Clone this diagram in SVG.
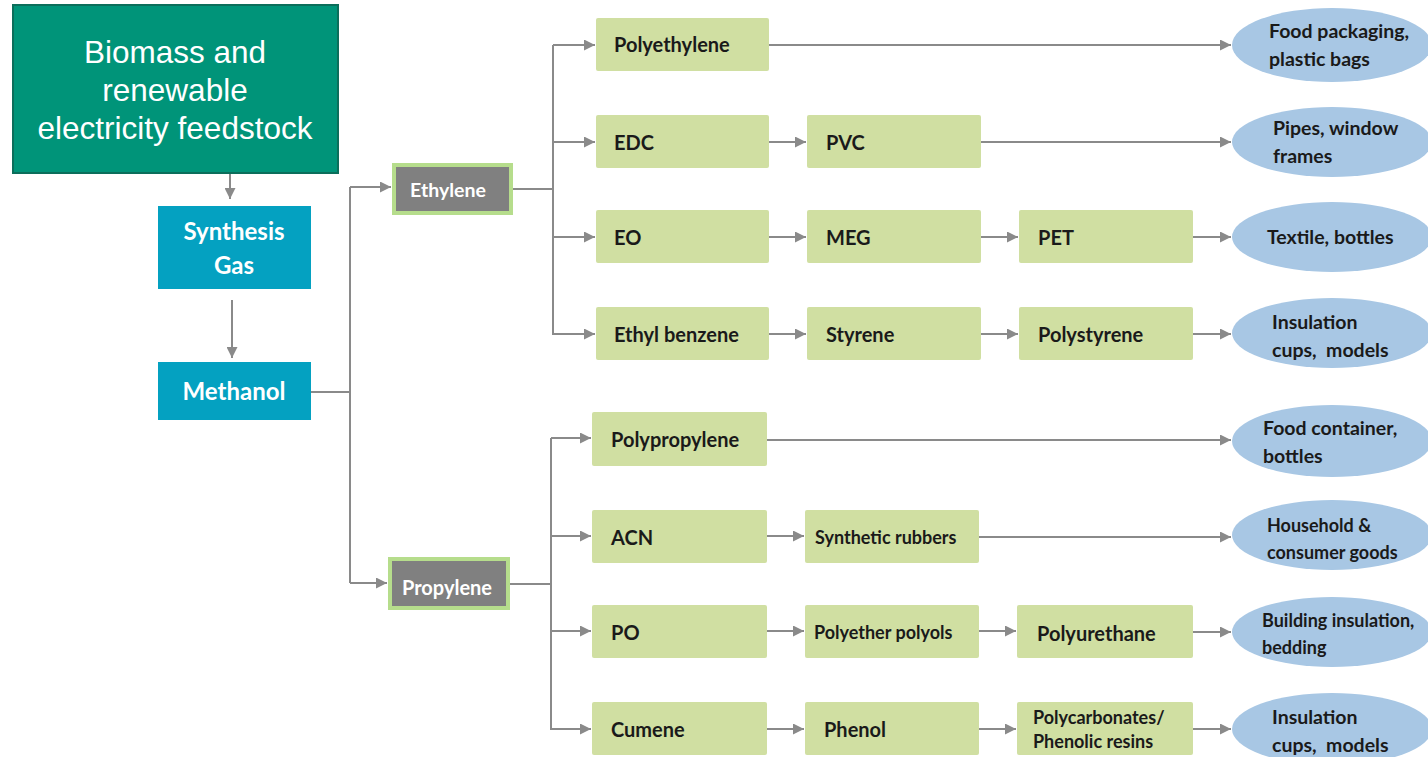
<svg xmlns="http://www.w3.org/2000/svg" width="1428" height="757" viewBox="0 0 1428 757">
<style>
.conn{fill:none;stroke:#8a8a8a;stroke-width:2}
.box{fill:#d0dfa2}
.bt{font-family:Lato,"Liberation Sans",sans-serif;font-size:20px;font-weight:bold;fill:#1a1a1a}
.st{font-family:Lato,"Liberation Sans",sans-serif;font-size:18px;font-weight:bold;fill:#1a1a1a}
.ell{fill:#a8c7e4}
.et{font-family:Lato,"Liberation Sans",sans-serif;font-size:19.5px;font-weight:bold;fill:#1a1a1a}
.gray{fill:#808080;stroke:#b6dd8c;stroke-width:4}
.wt{font-family:Lato,"Liberation Sans",sans-serif;fill:#fff;text-anchor:middle;font-weight:bold}
.blue{fill:#04a1c1}
</style>
<defs>
<marker id="ah" markerUnits="userSpaceOnUse" markerWidth="11" markerHeight="11" refX="11" refY="5.5" orient="auto">
<path d="M0,0 L11,5.5 L0,11 z" fill="#8a8a8a"/>
</marker>
</defs>
<rect width="1428" height="757" fill="#fff"/>
<g id="connectors">
<line class="conn" x1="230" y1="173" x2="230" y2="199" marker-end="url(#ah)"/>
<line class="conn" x1="232" y1="300" x2="232" y2="358" marker-end="url(#ah)"/>
<polyline class="conn" points="311,392 350,392"/>
<polyline class="conn" points="350,187 350,583"/>
<line class="conn" x1="350" y1="187" x2="391" y2="187" marker-end="url(#ah)"/>
<line class="conn" x1="350" y1="583" x2="387" y2="583" marker-end="url(#ah)"/>
<polyline class="conn" points="513,189 553,189"/>
<polyline class="conn" points="553,45 553,335"/>
<line class="conn" x1="553" y1="45" x2="595" y2="45" marker-end="url(#ah)"/>
<line class="conn" x1="553" y1="142" x2="595" y2="142" marker-end="url(#ah)"/>
<line class="conn" x1="553" y1="237" x2="595" y2="237" marker-end="url(#ah)"/>
<line class="conn" x1="553" y1="334" x2="595" y2="334" marker-end="url(#ah)"/>
<polyline class="conn" points="510,584 551,584"/>
<polyline class="conn" points="551,438 551,730"/>
<line class="conn" x1="551" y1="438" x2="591" y2="438" marker-end="url(#ah)"/>
<line class="conn" x1="551" y1="536" x2="591" y2="536" marker-end="url(#ah)"/>
<line class="conn" x1="551" y1="631" x2="591" y2="631" marker-end="url(#ah)"/>
<line class="conn" x1="551" y1="729" x2="591" y2="729" marker-end="url(#ah)"/>
<line class="conn" x1="769" y1="142" x2="806" y2="142" marker-end="url(#ah)"/>
<line class="conn" x1="769" y1="237" x2="806" y2="237" marker-end="url(#ah)"/>
<line class="conn" x1="769" y1="334" x2="806" y2="334" marker-end="url(#ah)"/>
<line class="conn" x1="767" y1="536" x2="804" y2="536" marker-end="url(#ah)"/>
<line class="conn" x1="767" y1="631" x2="804" y2="631" marker-end="url(#ah)"/>
<line class="conn" x1="767" y1="729" x2="804" y2="729" marker-end="url(#ah)"/>
<line class="conn" x1="981" y1="237" x2="1018" y2="237" marker-end="url(#ah)"/>
<line class="conn" x1="981" y1="334" x2="1018" y2="334" marker-end="url(#ah)"/>
<line class="conn" x1="979" y1="631" x2="1016" y2="631" marker-end="url(#ah)"/>
<line class="conn" x1="979" y1="729" x2="1016" y2="729" marker-end="url(#ah)"/>
<line class="conn" x1="769" y1="45" x2="1231" y2="45" marker-end="url(#ah)"/>
<line class="conn" x1="981" y1="142" x2="1231" y2="142" marker-end="url(#ah)"/>
<line class="conn" x1="1193" y1="237" x2="1231" y2="237" marker-end="url(#ah)"/>
<line class="conn" x1="1193" y1="334" x2="1231" y2="334" marker-end="url(#ah)"/>
<line class="conn" x1="767" y1="440" x2="1231" y2="440" marker-end="url(#ah)"/>
<line class="conn" x1="979" y1="537" x2="1231" y2="537" marker-end="url(#ah)"/>
<line class="conn" x1="1193" y1="632" x2="1231" y2="632" marker-end="url(#ah)"/>
<line class="conn" x1="1193" y1="729" x2="1231" y2="729" marker-end="url(#ah)"/>
</g>
<g id="biomass">
<rect x="13" y="5" width="325" height="168" fill="#009479" stroke="#0c6e5b" stroke-width="2"/>
<text style="font-family:'Liberation Sans',Arial,sans-serif;font-size:31.5px;fill:#fff;text-anchor:middle"><tspan x="175" y="63">Biomass and</tspan><tspan x="175" y="101">renewable</tspan><tspan x="175" y="139">electricity feedstock</tspan></text>
</g>
<g id="synthesis-gas">
<rect class="blue" x="158" y="206" width="153" height="83"/>
<text class="wt" style="font-size:24px"><tspan x="234" y="240">Synthesis</tspan><tspan x="234" y="274">Gas</tspan></text>
</g>
<g id="methanol">
<rect class="blue" x="158" y="362" width="153" height="58"/>
<text class="wt" x="234" y="400" style="font-size:24px">Methanol</text>
</g>
<g id="ethylene">
<rect class="gray" x="394" y="165" width="117" height="48"/>
<text class="wt" x="448" y="197" style="font-size:19.5px">Ethylene</text>
</g>
<g id="propylene">
<rect class="gray" x="390" y="559" width="118" height="49"/>
<text class="wt" x="447" y="595" style="font-size:20px">Propylene</text>
</g>
<g id="polyethylene"><rect class="box" x="596" y="18" width="173" height="53" rx="2"/><text class="bt" x="614" y="52">Polyethylene</text></g>
<g id="edc"><rect class="box" x="596" y="115" width="173" height="53" rx="2"/><text class="bt" x="614" y="150">EDC</text></g>
<g id="pvc"><rect class="box" x="807" y="115" width="174" height="53" rx="2"/><text class="bt" x="826" y="150">PVC</text></g>
<g id="eo"><rect class="box" x="596" y="210" width="173" height="53" rx="2"/><text class="bt" x="614" y="245">EO</text></g>
<g id="meg"><rect class="box" x="807" y="210" width="174" height="53" rx="2"/><text class="bt" x="826" y="245">MEG</text></g>
<g id="pet"><rect class="box" x="1019" y="210" width="174" height="53" rx="2"/><text class="bt" x="1038" y="245">PET</text></g>
<g id="ethylbenzene"><rect class="box" x="596" y="307" width="173" height="53" rx="2"/><text class="bt" x="614" y="342">Ethyl benzene</text></g>
<g id="styrene"><rect class="box" x="807" y="307" width="174" height="53" rx="2"/><text class="bt" x="826" y="342">Styrene</text></g>
<g id="polystyrene"><rect class="box" x="1019" y="307" width="174" height="53" rx="2"/><text class="bt" x="1038" y="342">Polystyrene</text></g>
<g id="polypropylene"><rect class="box" x="592" y="412" width="175" height="54" rx="2"/><text class="bt" x="611" y="447">Polypropylene</text></g>
<g id="acn"><rect class="box" x="592" y="510" width="175" height="53" rx="2"/><text class="bt" x="611" y="545">ACN</text></g>
<g id="synthetic-rubbers"><rect class="box" x="805" y="510" width="174" height="53" rx="2"/><text class="st" x="815" y="544">Synthetic rubbers</text></g>
<g id="po"><rect class="box" x="592" y="605" width="175" height="53" rx="2"/><text class="bt" x="611" y="640">PO</text></g>
<g id="polyether-polyols"><rect class="box" x="805" y="605" width="174" height="53" rx="2"/><text class="st" x="814" y="639">Polyether polyols</text></g>
<g id="polyurethane"><rect class="box" x="1017" y="605" width="176" height="53" rx="2"/><text class="bt" x="1037" y="641">Polyurethane</text></g>
<g id="cumene"><rect class="box" x="592" y="702" width="175" height="53" rx="2"/><text class="bt" x="611" y="737">Cumene</text></g>
<g id="phenol"><rect class="box" x="805" y="702" width="174" height="53" rx="2"/><text class="bt" x="824" y="737">Phenol</text></g>
<g id="polycarbonates"><rect class="box" x="1017" y="702" width="176" height="53" rx="2"/><text class="st"><tspan x="1033" y="724">Polycarbonates/</tspan><tspan x="1033" y="748">Phenolic resins</tspan></text></g>
<g id="use-food-packaging"><ellipse class="ell" cx="1332" cy="45" rx="100" ry="37"/><text class="et"><tspan x="1269" y="38">Food packaging,</tspan><tspan x="1269" y="66">plastic bags</tspan></text></g>
<g id="use-pipes"><ellipse class="ell" cx="1332" cy="142" rx="100" ry="35"/><text class="et"><tspan x="1273" y="135">Pipes, window</tspan><tspan x="1273" y="163">frames</tspan></text></g>
<g id="use-textile"><ellipse class="ell" cx="1332" cy="237" rx="100" ry="35"/><text class="et" x="1267" y="244">Textile, bottles</text></g>
<g id="use-insulation-1"><ellipse class="ell" cx="1332" cy="333" rx="100" ry="35"/><text class="et"><tspan x="1272" y="329">Insulation</tspan><tspan x="1272" y="357">cups,&#160; models</tspan></text></g>
<g id="use-food-container"><ellipse class="ell" cx="1332" cy="441" rx="100" ry="36"/><text class="et"><tspan x="1263" y="435">Food container,</tspan><tspan x="1263" y="463">bottles</tspan></text></g>
<g id="use-household"><ellipse class="ell" cx="1332" cy="535" rx="100" ry="35"/><text class="et" style="font-size:18px"><tspan x="1267" y="532">Household &amp;</tspan><tspan x="1267" y="559">consumer goods</tspan></text></g>
<g id="use-building"><ellipse class="ell" cx="1332" cy="632" rx="100" ry="35"/><text class="et" style="font-size:18px"><tspan x="1262" y="627">Building insulation,</tspan><tspan x="1262" y="654">bedding</tspan></text></g>
<g id="use-insulation-2"><ellipse class="ell" cx="1332" cy="729" rx="100" ry="36"/><text class="et"><tspan x="1272" y="724">Insulation</tspan><tspan x="1272" y="752">cups,&#160; models</tspan></text></g>
</svg>
